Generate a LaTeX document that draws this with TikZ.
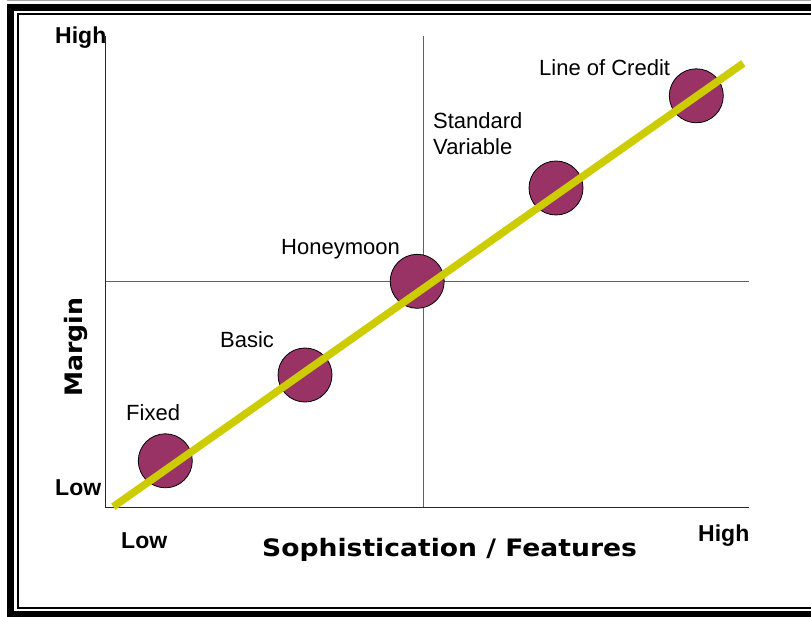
\documentclass[tikz,border=0pt]{standalone}
\usepackage{fontspec}
\setmainfont{Liberation Sans}
\newfontfamily\widesans{DejaVu Sans}
\definecolor{dotfill}{HTML}{993366}
\definecolor{trend}{HTML}{CCCC00}
\begin{document}
\begin{tikzpicture}[x=1pt,y=-1pt,
  lbl/.style={font=\fontsize{22}{26}\selectfont, inner sep=0pt, anchor=base west},
  axlbl/.style={font=\fontsize{23}{27}\selectfont\bfseries, inner sep=0pt, anchor=base west},
  titlelbl/.style={font=\widesans\fontsize{24}{28}\selectfont\bfseries, inner sep=0pt, anchor=base west},
  dot/.style={circle, fill=dotfill, draw=black, line width=0.8pt, minimum size=54pt, inner sep=0pt},
  gridline/.style={draw=black!62, line width=1.1pt},
  axisline/.style={draw=black!85, line width=1.1pt}]
\useasboundingbox (0,0) rectangle (811,617);
\fill[white] (0,0) rectangle (811,617);

% frame: faint outer rule, thick black border and thin inner rule
\draw[black!35, line width=1pt] (7,0.5) -- (815,0.5);
\draw[black, line width=7pt] (815,7.5) -- (10.5,7.5) -- (10.5,614.5) -- (815,614.5);
\draw[black, line width=2pt] (815,14.3) -- (18,14.3) -- (18,608.2) -- (815,608.2);

% axes and quadrant dividers
\coordinate (ytop) at (105.3,36);
\coordinate (origin) at (105.3,507.5);
\coordinate (xend) at (748.5,507.5);
\coordinate (midtop) at (423.5,35.7);
\coordinate (midbot) at (423.5,507.5);
\coordinate (midleft) at (105.3,281.7);
\coordinate (midright) at (748.5,281.7);
\draw[gridline] (midtop) -- (midbot);
\draw[gridline] (midleft) -- (midright);
\draw[axisline] (ytop) -- (origin) -- (xend);

% products
\node[dot] (fixed) at (165.3,460.8) {};
\node[dot] (basic) at (305,375) {};
\node[dot] (honey) at (417.2,281.3) {};
\node[dot] (stdvar) at (556,188) {};
\node[dot] (loc) at (696.3,95.8) {};

% trend line
\coordinate (trendlo) at (113.3,506.7);
\coordinate (trendhi) at (743.3,63.3);
\draw[trend, line width=7.5pt] (trendlo) -- (trendhi);

% product labels
\node[lbl] (fixedlbl) at (126,420) {Fixed};
\node[lbl] (basiclbl) at (220,348) {Basic};
\node[lbl] (honeylbl) at (281,255) {Honeymoon};
\node[lbl] (stdlbl) at (433,128.3) {Standard};
\node[lbl] (varlbl) at (433,155) {Variable};
\node[lbl] (loclbl) at (539,76) {Line of Credit};

% axis labels
\node[axlbl] (yhigh) at (55,43.3) {High};
\node[axlbl] (ylow) at (55,495) {Low};
\node[axlbl] (xlow) at (121,548) {Low};
\node[axlbl] (xhigh) at (698,541.7) {High};
\node[titlelbl] (xtitle) at (262,556.7) {\scalebox{1.108}[1]{Sophistication / Features}};
\node[titlelbl, rotate=90] (ytitle) at (82,397) {\scalebox{1.05}[1]{Margin}};
\end{tikzpicture}
\end{document}
